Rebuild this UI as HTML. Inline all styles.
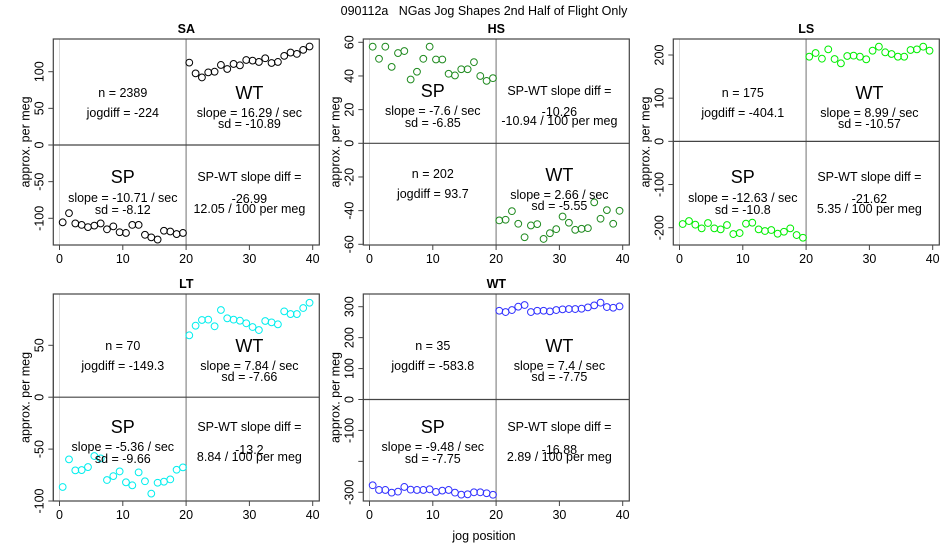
<!DOCTYPE html>
<html><head><meta charset="utf-8"><style>
body{margin:0;background:#fff}
svg{display:block;font-family:"Liberation Sans",Arial,sans-serif}
</style></head><body>
<svg id="chart" width="950" height="550" viewBox="0 0 950 550" xmlns="http://www.w3.org/2000/svg">
<rect width="950" height="550" fill="#fff"/>
<text x="484" y="15" font-size="12.5" text-anchor="middle" fill="#000" style="white-space:pre">090112a   NGas Jog Shapes 2nd Half of Flight Only</text>
<text x="484" y="540" font-size="12.5" text-anchor="middle" fill="#000">jog position</text>
</svg>
<script>
const xTicks = [0, 10, 20, 30, 40];
const saSP = [-105.5,-93,-107,-109,-112,-110,-107,-115,-111,-119,-120,-109,-109,-122.5,-126,-129,-117,-118,-121.5,-120];
const saWT = [112.4,97.7,92.2,99.1,100,109.2,103.7,110.6,108.7,116,115.1,113.3,118.3,111.9,113.3,121.6,126.1,124.3,129.8,134.4];
const hsSP = [57.4,50.2,57.4,45.4,53.6,54.8,37.9,42.5,50.2,57.4,49.8,49.8,41.3,40.3,44,44,48.2,40,37.1,38.7];
const hsWT = [-45.8,-45.4,-40.3,-47.8,-55.8,-48.8,-48,-56.8,-53.4,-51,-43.5,-47.2,-51.4,-50.8,-50.4,-35.1,-44.8,-39.7,-47.8,-40.1];
const lsSP = [-191.5,-184.6,-193,-201.5,-189.2,-201.5,-203.9,-193.8,-214.7,-212.4,-190.7,-188.4,-203.9,-207.7,-205.4,-213.9,-209.3,-201.5,-217,-223.2];
const lsWT = [196.1,204.6,191.5,213.1,190.7,180.7,197.7,198.5,196.1,190,210,219.3,206.2,202.3,196.1,196.1,211.6,213.1,219.3,210];
const ltSP = [-86.5,-59.9,-70.5,-70.2,-67.3,-56.7,-59,-79.8,-76,-71.5,-82,-84.9,-72.4,-81,-92.9,-82.4,-81.4,-79.2,-69.9,-67.6];
const ltWT = [59.6,68.9,74.4,74.7,68.3,84,76,74.7,73.7,71.2,67.6,64.7,73.4,72.1,70.2,82.7,80.1,80.1,85.9,91];
const wtSP = [-277.3,-292.4,-292.4,-301.1,-297.9,-282.7,-291.4,-292.4,-292.4,-290.3,-298.9,-294.6,-292.4,-301.1,-307.6,-306.5,-300,-300,-303,-308];
const wtWT = [287,282.7,289.2,300,305.4,282.7,287,287,284.9,289.2,291.4,292.4,292.4,293.5,297.8,304.3,313,298.9,296.7,301];
const saTicks = [-100,-50,0,50,100];
const hsTicks = [-60,-40,-20,0,20,40,60];
const lsTicks = [-200,-100,0,100,200];
const ltTicks = [-100,-50,0,50];
const wtTicks = [-300,-200,-100,0,100,200,300];
const wtTickLabels = ['-300','','-100','0','100','200','300'];

const NS = 'http://www.w3.org/2000/svg';
const svg = document.getElementById('chart');
function mk(tag, attrs, parent, txt){
  const e = document.createElementNS(NS, tag);
  for (const k in attrs) e.setAttribute(k, attrs[k]);
  if (txt !== undefined) e.textContent = txt;
  (parent||svg).appendChild(e); return e;
}
const panels = [
 {id:'sa', title:'SA', left:53.3, top:39, bottom:245, yA:[100,71.7], yB:[-100,218.3], ticks:saTicks, labels:null, sp:saSP, wt:saWT, color:'#000',
  spTop:false, n:'n = 2389', jog:'jogdiff = -224', wtSlope:'slope = 16.29 / sec', wtSd:'sd = -10.89', spSlope:'slope = -10.71 / sec', spSd:'sd = -8.12', d1:'-26.99', d2:'12.05 / 100 per meg'},
 {id:'hs', title:'HS', left:363.3, top:39, bottom:245, yA:[60,42.3], yB:[-60,244.3], ticks:hsTicks, labels:null, sp:hsSP, wt:hsWT, color:'#1f8a1f',
  spTop:true, n:'n = 202', jog:'jogdiff = 93.7', wtSlope:'slope = 2.66 / sec', wtSd:'sd = -5.55', spSlope:'slope = -7.6 / sec', spSd:'sd = -6.85', d1:'-10.26', d2:'-10.94 / 100 per meg'},
 {id:'ls', title:'LS', left:673.3, top:39, bottom:245, yA:[200,55], yB:[-200,227.7], ticks:lsTicks, labels:null, sp:lsSP, wt:lsWT, color:'#00ee00',
  spTop:false, n:'n = 175', jog:'jogdiff = -404.1', wtSlope:'slope = 8.99 / sec', wtSd:'sd = -10.57', spSlope:'slope = -12.63 / sec', spSd:'sd = -10.8', d1:'-21.62', d2:'5.35 / 100 per meg'},
 {id:'lt', title:'LT', left:53.3, top:294, bottom:501, yA:[50,345.3], yB:[-100,501], ticks:ltTicks, labels:null, sp:ltSP, wt:ltWT, color:'#00eeee',
  spTop:false, n:'n = 70', jog:'jogdiff = -149.3', wtSlope:'slope = 7.84 / sec', wtSd:'sd = -7.66', spSlope:'slope = -5.36 / sec', spSd:'sd = -9.66', d1:'-13.2', d2:'8.84 / 100 per meg'},
 {id:'wt', title:'WT', left:363.3, top:294, bottom:501, yA:[300,306.7], yB:[-300,492.3], ticks:wtTicks, labels:wtTickLabels, sp:wtSP, wt:wtWT, color:'#3030ff',
  spTop:false, n:'n = 35', jog:'jogdiff = -583.8', wtSlope:'slope = 7.4 / sec', wtSd:'sd = -7.75', spSlope:'slope = -9.48 / sec', spSd:'sd = -7.75', d1:'-16.88', d2:'2.89 / 100 per meg'}
];
panels.forEach(p => {
  const right = p.left + 266;
  const x0 = p.left + 6.2, x40 = right - 6.6;
  const X = v => x0 + (x40 - x0) * v / 40;
  const Y = v => p.yA[1] + (p.yB[1] - p.yA[1]) * (v - p.yA[0]) / (p.yB[0] - p.yA[0]);
  const g = mk('g', {});
  
  
  const t = mk('text', {x:(p.left+right)/2, y:p.top-6, 'font-size':12.5, 'font-weight':'bold', 'text-anchor':'middle'}, g, p.title);
  
  
  mk('line', {x1:X(0), x2:X(0), y1:p.top, y2:p.bottom, stroke:'#d8d8d8', 'stroke-width':1}, g);
  mk('line', {x1:X(20), x2:X(20), y1:p.top, y2:p.bottom, stroke:'#888', 'stroke-width':1.2}, g);
  mk('line', {x1:p.left, x2:right, y1:Y(0), y2:Y(0), stroke:'#444', 'stroke-width':1.2}, g);
  const box = mk('rect', {x:p.left, y:p.top, width:266, height:p.bottom-p.top, fill:'none', stroke:'#444', 'stroke-width':1.2}, g);
  
  
  mk('line', {x1:X(0), x2:X(40), y1:p.bottom, y2:p.bottom, stroke:'#444'}, g);
  xTicks.forEach(v => {
    mk('line', {x1:X(v), x2:X(v), y1:p.bottom, y2:p.bottom+5, stroke:'#444'}, g);
    const l = mk('text', {x:X(v), y:p.bottom+18, 'font-size':12.5, 'text-anchor':'middle'}, g, String(v));
    
    
  });
  const tmin = p.ticks[0], tmax = p.ticks[p.ticks.length-1];
  mk('line', {x1:p.left, x2:p.left, y1:Y(tmin), y2:Y(tmax), stroke:'#444'}, g);
  p.ticks.forEach((v, i) => {
    mk('line', {x1:p.left-5, x2:p.left, y1:Y(v), y2:Y(v), stroke:'#444'}, g);
    const txt = p.labels ? p.labels[i] : String(v);
    if (!txt) return;
    const cx = p.left - 14, cy = Y(v);
    const l = mk('text', {x:cx, y:cy, 'font-size':12.5, 'text-anchor':'middle', 'dominant-baseline':'central', transform:'rotate(-90 '+cx+' '+cy+')'}, g, txt);
    
    
  });
  const yc = (p.top+p.bottom)/2, yx = p.left - 28;
  const yt = mk('text', {x:yx, y:yc, 'font-size':12.5, 'text-anchor':'middle', 'dominant-baseline':'central', transform:'rotate(-90 '+yx+' '+yc+')'}, g, 'approx. per meg');
  
  
  p.sp.forEach((v, i) => {
    const c = mk('circle', {cx:X(i+0.5), cy:Y(v), r:3.4, fill:'none', stroke:p.color, 'stroke-width':1}, g);
    
    
  });
  p.wt.forEach((v, i) => {
    const c = mk('circle', {cx:X(i+20.5), cy:Y(v), r:3.4, fill:'none', stroke:p.color, 'stroke-width':1}, g);
    
    
  });
  const bottomRow = p.top > 100;
  const o = bottomRow ? [52,72,83,133,153,165,156,163] : [54,74,85,138,159,171,160,170];
  const topY = k => p.top + o[k];
  const bot = k => p.top + o[k];
  const ann = (x, y, s, size, name) => {
    const e = mk('text', {x:x, y:y, 'font-size':size, 'text-anchor':'middle', 'dominant-baseline':'central'}, g, s);
    
    
  };
  const xl = X(10), xr = X(30);
  if (!p.spTop) {
    ann(xl, topY(0), p.n, 12.5, p.id+'-n-label');
    ann(xl, topY(1), p.jog, 12.5, p.id+'-jogdiff-label');
    ann(xr, topY(0), 'WT', 18, p.id+'-wt-label');
    ann(xr, topY(1), p.wtSlope, 12.5, p.id+'-wt-slope');
    ann(xr, topY(2), p.wtSd, 12.5, p.id+'-wt-sd');
    ann(xl, bot(3), 'SP', 18, p.id+'-sp-label');
    ann(xl, bot(4), p.spSlope, 12.5, p.id+'-sp-slope');
    ann(xl, bot(5), p.spSd, 12.5, p.id+'-sp-sd');
    ann(xr, bot(3), 'SP-WT slope diff =', 12.5, p.id+'-diff-label');
    ann(xr, bot(6), p.d1, 12.5, p.id+'-diff-value');
    ann(xr, bot(7), p.d2, 12.5, p.id+'-diff-permeg');
  } else {
    ann(xl, p.top+52, 'SP', 18, p.id+'-sp-label');
    ann(xl, p.top+72, p.spSlope, 12.5, p.id+'-sp-slope');
    ann(xl, p.top+84, p.spSd, 12.5, p.id+'-sp-sd');
    ann(xr, p.top+52, 'SP-WT slope diff =', 12.5, p.id+'-diff-label');
    ann(xr, p.top+73, p.d1, 12.5, p.id+'-diff-value');
    ann(xr, p.top+82, p.d2, 12.5, p.id+'-diff-permeg');
    ann(xl, p.top+135, p.n, 12.5, p.id+'-n-label');
    ann(xl, p.top+155, p.jog, 12.5, p.id+'-jogdiff-label');
    ann(xr, p.top+136, 'WT', 18, p.id+'-wt-label');
    ann(xr, p.top+156, p.wtSlope, 12.5, p.id+'-wt-slope');
    ann(xr, p.top+167, p.wtSd, 12.5, p.id+'-wt-sd');
  }
});
</script>
</body></html>
